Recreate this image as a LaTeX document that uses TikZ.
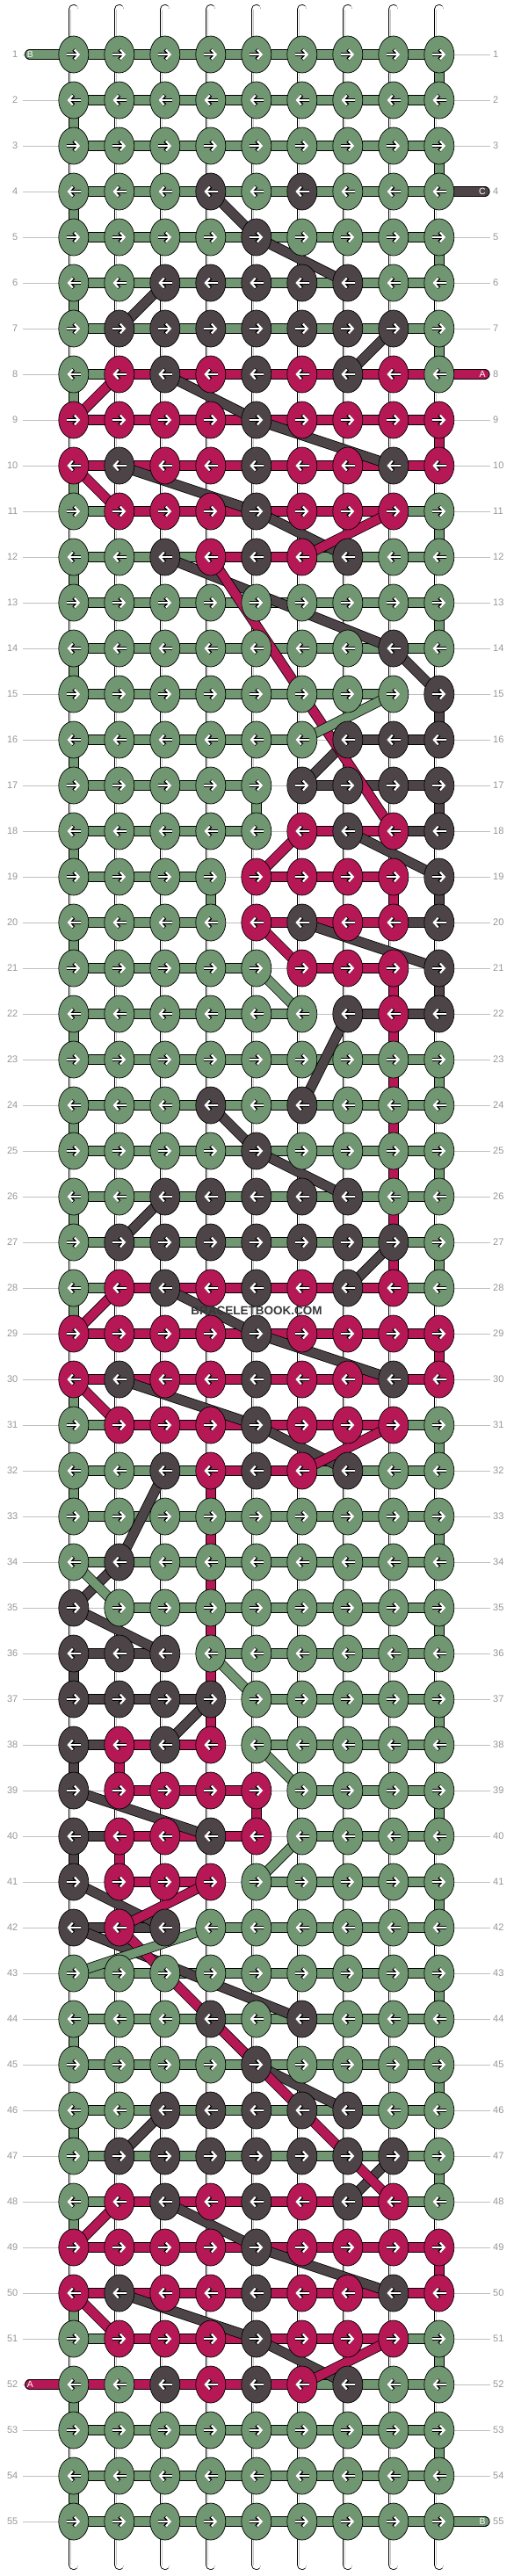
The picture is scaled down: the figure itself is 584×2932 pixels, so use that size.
\documentclass[tikz,border=0pt]{standalone}
\usepackage{fontspec}
\setmainfont{Liberation Sans}
\usetikzlibrary{shapes.geometric,arrows.meta}

\definecolor{g}{RGB}{112,151,113}
\definecolor{d}{RGB}{77,68,72}
\definecolor{p}{RGB}{182,24,86}
\definecolor{rulegray}{RGB}{192,192,192}
\definecolor{numgray}{RGB}{150,150,150}

\pgfdeclarelayer{rules}
\pgfdeclarelayer{strings}
\pgfdeclarelayer{bars}
\pgfdeclarelayer{diags}
\pgfsetlayers{rules,strings,bars,diags,main}

\tikzset{
  knot/.style={ellipse, draw=black, line width=0.7pt, minimum width=34pt,
    minimum height=42pt, inner sep=0pt},
  strip/.style={draw=black, line width=0.8pt, double distance=10pt},
  tip/.style={-{Straight Barb[length=5pt,width=11pt]}},
  toright/.style={path picture={
    \draw[black, line width=3.8pt, tip] ([xshift=-8pt]path picture bounding box.center) -- ([xshift=7.5pt]path picture bounding box.center);
    \draw[white, line width=2.2pt, tip] ([xshift=-8pt]path picture bounding box.center) -- ([xshift=7.5pt]path picture bounding box.center);}},
  toleft/.style={path picture={
    \draw[black, line width=3.8pt, tip] ([xshift=8pt]path picture bounding box.center) -- ([xshift=-7.5pt]path picture bounding box.center);
    \draw[white, line width=2.2pt, tip] ([xshift=8pt]path picture bounding box.center) -- ([xshift=-7.5pt]path picture bounding box.center);}},
  rownum/.style={inner sep=0pt, text=numgray, font=\fontsize{11}{12}\selectfont},
  tag/.style={inner sep=0pt, text=white, font=\fontsize{10.5}{10}\selectfont}
}

% one row of knots: row, knot colours, bar colours (n = no bar)
\newcommand\knotrow[3]{%
  \ifodd#1\def\kdir{toright}\else\def\kdir{toleft}\fi
  \foreach \kc [count=\ci] in {#2}{%
    \node[knot, fill=\kc, \kdir] (k-#1-\ci) at ({31.8+52*\ci},{-10-52*#1}) {};
  }%
  \begin{pgfonlayer}{bars}
    \foreach \bc [count=\ci] in {#3}{%
      \pgfmathtruncatemacro\cn{\ci+1}%
      \if\bc n\else\draw[strip, double=\bc] (k-#1-\ci.center) -- (k-#1-\cn.center);\fi
    }%
  \end{pgfonlayer}%
}

\begin{document}
\begin{tikzpicture}[x=1pt, y=1pt]
\useasboundingbox (0,0) rectangle (584,-2932);

% row numbers
\foreach \r in {1,...,55}{
  \node[rownum, anchor=east] (nl-\r) at (20.5,{-10-52*\r}) {\r};
  \node[rownum, anchor=west] (nr-\r) at (561,{-10-52*\r}) {\r};
  \begin{pgfonlayer}{rules}
    \draw[rulegray, line width=0.7pt] ([xshift=5.5pt]nl-\r.east) -- ([xshift=-3.5pt]nr-\r.west);
  \end{pgfonlayer}
}

% white strings
\foreach \cc in {1,...,9}{
  \coordinate (top-\cc) at ({31.8+52*\cc},-10.5);
  \coordinate (bot-\cc) at ({31.8+52*\cc},-2919.5);
  \begin{pgfonlayer}{strings}
    \draw[strip, double=white, double distance=9.4pt, line cap=round] (top-\cc) -- (bot-\cc);
    \draw[draw=black!22, line width=0.6pt, double=white, double distance=5.6pt] (top-\cc) -- (bot-\cc);
  \end{pgfonlayer}
}

\knotrow{1}{g,g,g,g,g,g,g,g,g}{g,g,g,g,g,g,g,g}
\knotrow{2}{g,g,g,g,g,g,g,g,g}{g,g,g,g,g,g,g,g}
\knotrow{3}{g,g,g,g,g,g,g,g,g}{g,g,g,g,g,g,g,g}
\knotrow{4}{g,g,g,d,g,d,g,g,g}{g,g,g,g,g,g,g,g}
\knotrow{5}{g,g,g,g,d,g,g,g,g}{g,g,g,g,g,g,g,g}
\knotrow{6}{g,g,d,d,d,d,d,g,g}{g,g,g,g,g,g,g,g}
\knotrow{7}{g,d,d,d,d,d,d,d,g}{g,g,g,g,g,g,g,g}
\knotrow{8}{g,p,d,p,d,p,d,p,g}{g,p,p,p,p,p,p,p}
\knotrow{9}{p,p,p,p,d,p,p,p,p}{p,p,p,p,p,p,p,p}
\knotrow{10}{p,d,p,p,d,p,p,d,p}{p,p,p,p,p,p,p,p}
\knotrow{11}{g,p,p,p,d,p,p,p,g}{g,p,p,p,p,p,p,g}
\knotrow{12}{g,g,d,p,d,p,d,g,g}{g,g,g,p,p,g,g,g}
\knotrow{13}{g,g,g,g,g,g,g,g,g}{g,g,g,g,g,g,g,g}
\knotrow{14}{g,g,g,g,g,g,g,d,g}{g,g,g,g,g,g,g,g}
\knotrow{15}{g,g,g,g,g,g,g,g,d}{g,g,g,g,g,g,g,n}
\knotrow{16}{g,g,g,g,g,g,d,d,d}{g,g,g,g,g,n,d,d}
\knotrow{17}{g,g,g,g,g,d,d,d,d}{g,g,g,g,n,d,d,d}
\knotrow{18}{g,g,g,g,g,p,d,p,d}{g,g,g,g,n,p,p,d}
\knotrow{19}{g,g,g,g,p,p,p,p,d}{g,g,g,n,p,p,p,n}
\knotrow{20}{g,g,g,g,p,d,p,p,d}{g,g,g,n,p,p,p,d}
\knotrow{21}{g,g,g,g,g,p,p,p,d}{g,g,g,g,n,p,p,n}
\knotrow{22}{g,g,g,g,g,g,d,p,d}{g,g,g,g,g,n,d,d}
\knotrow{23}{g,g,g,g,g,g,g,g,g}{g,g,g,g,g,g,g,g}
\knotrow{24}{g,g,g,d,g,d,g,g,g}{g,g,g,g,g,g,g,g}
\knotrow{25}{g,g,g,g,d,g,g,g,g}{g,g,g,g,g,g,g,g}
\knotrow{26}{g,g,d,d,d,d,d,g,g}{g,g,g,g,g,g,g,g}
\knotrow{27}{g,d,d,d,d,d,d,d,g}{g,g,g,g,g,g,g,g}
\knotrow{28}{g,p,d,p,d,p,d,p,g}{g,p,p,p,p,p,p,g}
\knotrow{29}{p,p,p,p,d,p,p,p,p}{p,p,p,p,p,p,p,p}
\knotrow{30}{p,d,p,p,d,p,p,d,p}{p,p,p,p,p,p,p,p}
\knotrow{31}{g,p,p,p,d,p,p,p,g}{g,p,p,p,p,p,p,g}
\knotrow{32}{g,g,d,p,d,p,d,g,g}{g,g,g,p,p,g,g,g}
\knotrow{33}{g,g,g,g,g,g,g,g,g}{g,g,g,g,g,g,g,g}
\knotrow{34}{g,d,g,g,g,g,g,g,g}{g,g,g,g,g,g,g,g}
\knotrow{35}{d,g,g,g,g,g,g,g,g}{n,g,g,g,g,g,g,g}
\knotrow{36}{d,d,d,g,g,g,g,g,g}{d,d,n,g,g,g,g,g}
\knotrow{37}{d,d,d,d,g,g,g,g,g}{d,d,d,n,g,g,g,g}
\knotrow{38}{d,p,d,p,g,g,g,g,g}{d,p,p,n,g,g,g,g}
\knotrow{39}{d,p,p,p,p,g,g,g,g}{n,p,p,p,n,g,g,g}
\knotrow{40}{d,p,p,d,p,g,g,g,g}{d,p,p,p,n,g,g,g}
\knotrow{41}{d,p,p,p,g,g,g,g,g}{n,p,p,n,g,g,g,g}
\knotrow{42}{d,p,d,g,g,g,g,g,g}{d,d,n,g,g,g,g,g}
\knotrow{43}{g,g,g,g,g,g,g,g,g}{g,g,g,g,g,g,g,g}
\knotrow{44}{g,g,g,d,g,d,g,g,g}{g,g,g,g,g,g,g,g}
\knotrow{45}{g,g,g,g,d,g,g,g,g}{g,g,g,g,g,g,g,g}
\knotrow{46}{g,g,d,d,d,d,d,g,g}{g,g,g,g,g,g,g,g}
\knotrow{47}{g,d,d,d,d,d,d,d,g}{g,g,g,g,g,g,g,g}
\knotrow{48}{g,p,d,p,d,p,d,p,g}{g,p,p,p,p,p,p,g}
\knotrow{49}{p,p,p,p,d,p,p,p,p}{p,p,p,p,p,p,p,p}
\knotrow{50}{p,d,p,p,d,p,p,d,p}{p,p,p,p,p,p,p,p}
\knotrow{51}{g,p,p,p,d,p,p,p,g}{g,p,p,p,p,p,p,g}
\knotrow{52}{g,g,d,p,d,p,d,g,g}{p,p,p,p,p,g,g,g}
\knotrow{53}{g,g,g,g,g,g,g,g,g}{g,g,g,g,g,g,g,g}
\knotrow{54}{g,g,g,g,g,g,g,g,g}{g,g,g,g,g,g,g,g}
\knotrow{55}{g,g,g,g,g,g,g,g,g}{g,g,g,g,g,g,g,g}

\begin{pgfonlayer}{bars}
  % threads going down one row
  \foreach \r/\cc/\vc in {1/9/g,3/9/g,5/9/g,7/9/g,9/9/p,11/9/g,13/9/g,15/9/d,17/9/d,19/9/d,21/9/d,
      23/9/g,25/9/g,27/9/g,29/9/p,31/9/g,33/9/g,35/9/g,37/9/g,39/9/g,41/9/g,43/9/g,45/9/g,47/9/g,
      49/9/p,51/9/g,53/9/g,
      2/1/g,4/1/g,6/1/g,8/1/g,10/1/g,12/1/g,14/1/g,16/1/g,18/1/g,20/1/g,22/1/g,24/1/g,26/1/g,
      28/1/g,30/1/g,32/1/g,36/1/d,38/1/d,40/1/d,44/1/g,46/1/g,48/1/g,50/1/g,52/1/g,54/1/g,
      17/5/g,19/4/g,19/8/p,21/8/p,22/8/p,23/8/p,24/8/p,25/8/p,26/8/p,27/8/p,
      32/4/p,33/4/p,34/4/p,35/4/p,36/4/p,37/4/p,38/2/p,40/2/p,39/5/p}{
    \pgfmathtruncatemacro\rn{\r+1}
    \draw[strip, double=\vc] (k-\r-\cc.center) -- (k-\rn-\cc.center);
  }
  % loose ends
  \coordinate (endB1) at (33.8,-62);
  \coordinate (endC) at (551.7,-218);
  \coordinate (endA1) at (551.7,-426);
  \coordinate (endA2) at (33.8,-2714);
  \coordinate (endB2) at (551.7,-2870);
  \draw[strip, double=g, line cap=round] (endB1) -- (k-1-1.center);
  \draw[strip, double=d, line cap=round] (endC) -- (k-4-9.center);
  \draw[strip, double=p, line cap=round] (endA1) -- (k-8-9.center);
  \draw[strip, double=p, line cap=round] (endA2) -- (k-52-1.center);
  \draw[strip, double=g, line cap=round] (endB2) -- (k-55-9.center);
\end{pgfonlayer}

\node[tag] (tagB1) at (34.5,-62) {B};
\node[tag] (tagC) at (549,-218) {C};
\node[tag] (tagA1) at (549,-426) {A};
\node[tag] (tagA2) at (34.5,-2714) {A};
\node[tag] (tagB2) at (549,-2870) {B};

\begin{pgfonlayer}{diags}
  \foreach \da/\db/\dc in {4-4/5-5/d,5-5/6-7/d,6-3/7-2/d,7-8/8-7/d,8-3/9-5/d,9-5/10-8/d,
      10-2/11-5/d,11-5/12-7/d,12-3/14-8/d,14-8/15-9/d,16-7/17-6/d,18-7/19-9/d,20-6/21-9/d,
      22-7/24-6/d,24-4/25-5/d,25-5/26-7/d,26-3/27-2/d,27-8/28-7/d,28-3/29-5/d,29-5/30-8/d,
      30-2/31-5/d,31-5/32-7/d,32-3/34-2/d,34-2/35-1/d,35-1/36-3/d,37-4/38-3/d,39-1/40-4/d,
      41-1/42-3/d,42-1/44-6/d,44-4/45-5/d,45-5/46-7/d,46-3/47-2/d,47-8/48-7/d,48-3/49-5/d,
      49-5/50-8/d,50-2/51-5/d,51-5/52-7/d,
      8-2/9-1/p,10-1/11-2/p,11-8/12-6/p,12-4/18-8/p,18-6/19-5/p,20-5/21-6/p,28-2/29-1/p,
      30-1/31-2/p,31-8/32-6/p,41-4/42-2/p,42-2/48-8/p,48-2/49-1/p,50-1/51-2/p,51-8/52-6/p,
      15-8/16-6/g,21-5/22-6/g,34-1/35-2/g,36-4/37-5/g,38-5/39-6/g,40-6/41-5/g,42-4/43-1/g}{
    \draw[strip, double=\dc] (k-\da.center) -- (k-\db.center);
  }
\end{pgfonlayer}

\node[text=black!78, font=\bfseries\fontsize{13.5}{14}\selectfont] (mark) at (292,-1492) {BRACELETBOOK.COM};
\end{tikzpicture}
\end{document}
